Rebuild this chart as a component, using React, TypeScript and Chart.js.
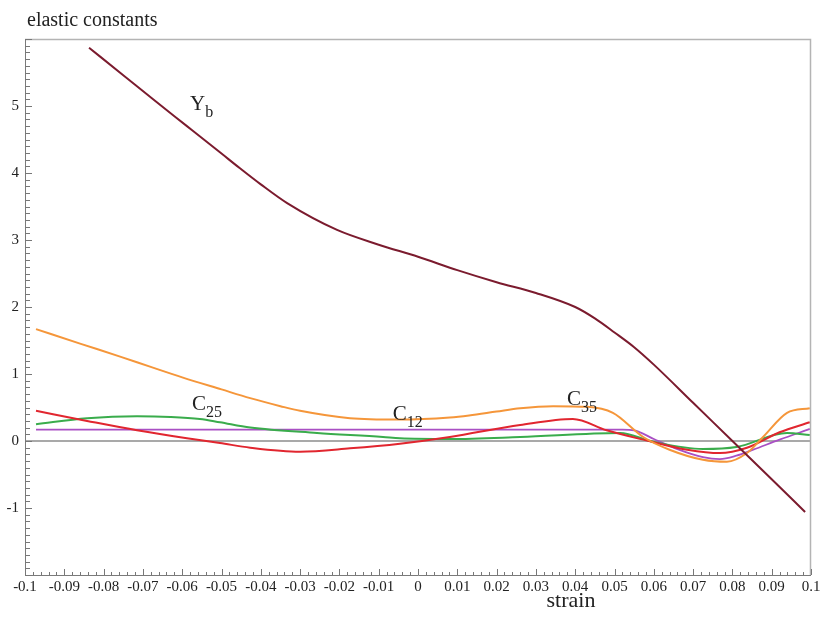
import React, { useEffect, useRef } from "react";
import { Chart, registerables } from "chart.js";
Chart.register(...registerables);

// ---- data (strain, value) ----
const ybX = [-0.0837, -0.075, -0.0674, -0.0588, -0.05, -0.0453, -0.04, -0.0333, -0.0206, -0.01, 0, 0.01, 0.02, 0.03, 0.04, 0.045, 0.05, 0.055, 0.06, 0.07, 0.08, 0.09, 0.0985];
const ybY = [5.87, 5.46, 5.1, 4.7, 4.29, 4.07, 3.83, 3.55, 3.15, 2.93, 2.75, 2.55, 2.37, 2.21, 2.0, 1.83, 1.62, 1.4, 1.14, 0.57, 0.0, -0.57, -1.06];

const orX = [-0.0972, -0.0858, -0.0758, -0.0682, -0.06, -0.05, -0.0427, -0.035, -0.03, -0.0173, -0.005, 0.0081, 0.013, 0.02, 0.026, 0.0344, 0.043, 0.0496, 0.0573, 0.064, 0.0725, 0.0786, 0.0837, 0.0878, 0.0939, 0.0997];
const orY = [1.67, 1.45, 1.26, 1.11, 0.95, 0.77, 0.64, 0.52, 0.45, 0.34, 0.32, 0.35, 0.38, 0.44, 0.49, 0.52, 0.51, 0.42, 0.06, -0.13, -0.28, -0.31, -0.18, 0.06, 0.42, 0.49];

const rdX = [-0.0972, -0.0842, -0.0715, -0.0588, -0.0504, -0.0427, -0.03, -0.0173, -0.0046, 0.0081, 0.026, 0.0394, 0.048, 0.058, 0.0685, 0.0768, 0.0837, 0.092, 0.0997];
const rdY = [0.45, 0.3, 0.16, 0.04, -0.03, -0.1, -0.16, -0.11, -0.04, 0.06, 0.24, 0.33, 0.16, 0.01, -0.13, -0.18, -0.1, 0.13, 0.28];

const gnX = [-0.0972, -0.0842, -0.0715, -0.063, -0.0555, -0.0504, -0.0427, -0.0257, -0.0089, -0.0046, 0.0081, 0.026, 0.0514, 0.0598, 0.0725, 0.081, 0.0939, 0.0997];
const gnY = [0.25, 0.34, 0.37, 0.36, 0.33, 0.28, 0.2, 0.12, 0.06, 0.04, 0.03, 0.06, 0.12, -0.01, -0.12, -0.09, 0.12, 0.09];

const puX = [-0.0972, 0, 0.052, 0.055, 0.06, 0.066, 0.0725, 0.0768, 0.081, 0.0853, 0.092, 0.0997];
const puY = [0.17, 0.17, 0.17, 0.16, 0.03, -0.12, -0.24, -0.27, -0.22, -0.13, 0.02, 0.18];

const zeroX = [-0.1, 0.1];
const zeroY = [0, 0];

// curve labels (main text, subscript, anchor in data coords)
const labelMain = ["Y", "C", "C", "C"];
const labelSub = ["b", "25", "12", "35"];
const labelX = [-0.058, -0.0575, -0.0064, 0.0379];
const labelY = [4.94, 0.46, 0.31, 0.54];

const xTickLabels = ["-0.1", "-0.09", "-0.08", "-0.07", "-0.06", "-0.05", "-0.04", "-0.03", "-0.02", "-0.01", "0", "0.01", "0.02", "0.03", "0.04", "0.05", "0.06", "0.07", "0.08", "0.09", "0.1"];
const yTickLabels = ["", "-1", "0", "1", "2", "3", "4", "5", ""];

const titleText = "elastic constants";
const xTitleText = "strain";

const SERIF = "'Liberation Serif', 'DejaVu Serif', serif";

const pts = (xs: number[], ys: number[]) => xs.map((x, i) => ({ x, y: ys[i] }));

const decoPlugin = {
  id: "deco",
  afterDatasetsDraw(chart: any) {
    const { ctx, chartArea: a, scales } = chart;
    const xs = scales.x;
    const ys = scales.y;
    ctx.save();
    // frame
    ctx.lineWidth = 1.5;
    ctx.strokeStyle = "#b4b4b4";
    ctx.beginPath();
    ctx.moveTo(a.left, a.top + 0.5);
    ctx.lineTo(a.right - 0.5, a.top + 0.5);
    ctx.lineTo(a.right - 0.5, a.bottom);
    ctx.stroke();
    ctx.strokeStyle = "#7a7a7a";
    ctx.lineWidth = 1;
    ctx.beginPath();
    ctx.moveTo(a.left + 0.5, a.top);
    ctx.lineTo(a.left + 0.5, a.bottom + 0.5);
    ctx.lineTo(a.right, a.bottom + 0.5);
    ctx.stroke();
    // y ticks
    ctx.strokeStyle = "#777";
    ctx.beginPath();
    for (let i = -20; i <= 60; i++) {
      const v = i / 10;
      const py = Math.round(ys.getPixelForValue(v)) + 0.5;
      const len = i % 10 === 0 ? 7 : 5;
      ctx.moveTo(a.left, py);
      ctx.lineTo(a.left + len, py);
    }
    // x ticks
    for (let i = -50; i <= 50; i++) {
      const v = i * 0.002;
      const px = Math.round(xs.getPixelForValue(v)) + 0.5;
      const len = i % 5 === 0 ? 6 : 3;
      ctx.moveTo(px, a.bottom);
      ctx.lineTo(px, a.bottom - len);
    }
    ctx.stroke();
    ctx.restore();
  },
  afterDraw(chart: any) {
    const { ctx, scales } = chart;
    const xs = scales.x;
    const ys = scales.y;
    ctx.save();
    ctx.fillStyle = "#222";
    ctx.textBaseline = "alphabetic";
    ctx.textAlign = "left";
    for (let i = 0; i < labelMain.length; i++) {
      const px = xs.getPixelForValue(labelX[i]);
      const py = ys.getPixelForValue(labelY[i]);
      ctx.font = `21px ${SERIF}`;
      ctx.fillText(labelMain[i], px, py);
      const w = ctx.measureText(labelMain[i]).width;
      ctx.font = `16px ${SERIF}`;
      ctx.fillText(labelSub[i], px + w, py + 7);
    }
    ctx.font = `20px ${SERIF}`;
    ctx.fillText(titleText, 27, 26);
    ctx.textAlign = "center";
    ctx.font = `22px ${SERIF}`;
    ctx.fillText(xTitleText, 571, 607);
    ctx.restore();
  },
};

export default function App() {
  const ref = useRef<HTMLCanvasElement>(null);
  useEffect(() => {
    if (!ref.current) return;
    const line = (data: any, color: string, width = 2, order = 0) => ({
      data,
      borderColor: color,
      backgroundColor: color,
      borderWidth: width,
      pointRadius: 0,
      showLine: true,
      fill: false,
      cubicInterpolationMode: "monotone" as const,
      order,
    });
    const chart = new Chart(ref.current, {
      type: "scatter",
      data: {
        datasets: [
          line(pts(zeroX, zeroY), "#a9a9a9", 2.2, 10),
          line(pts(puX, puY), "#a94fc4", 1.8, 5),
          line(pts(gnX, gnY), "#3aac4c", 2, 4),
          line(pts(rdX, rdY), "#e1262f", 2, 3),
          line(pts(orX, orY), "#f5963a", 2, 2),
          line(pts(ybX, ybY), "#7b1b2e", 2, 1),
        ],
      },
      plugins: [decoPlugin],
      options: {
        animation: false,
        responsive: false,
        devicePixelRatio: 1,
        layout: { padding: { left: 0, top: 39, right: 9, bottom: 0 } },
        plugins: { legend: { display: false }, tooltip: { enabled: false } },
        scales: {
          x: {
            type: "linear",
            min: -0.1,
            max: 0.1,
            grid: { display: false, drawTicks: false },
            border: { display: false },
            ticks: {
              stepSize: 0.01,
              autoSkip: false,
              maxRotation: 0,
              padding: 3,
              color: "#222",
              font: { family: SERIF, size: 15 },
              callback: (v: any) => xTickLabels[Math.round((Number(v) + 0.1) * 100)] ?? "",
            },
            afterFit: (s: any) => {
              s.height = 46;
              s.paddingLeft = 0;
              s.paddingRight = 0;
            },
          },
          y: {
            type: "linear",
            min: -2,
            max: 6,
            grid: { display: false, drawTicks: false },
            border: { display: false },
            ticks: {
              stepSize: 1,
              autoSkip: false,
              padding: 6,
              color: "#222",
              font: { family: SERIF, size: 15 },
              callback: (v: any) => yTickLabels[Math.round(Number(v)) + 2] ?? "",
            },
            afterFit: (s: any) => {
              s.width = 25;
              s.paddingTop = 0;
              s.paddingBottom = 0;
            },
          },
        },
      },
    });
    return () => chart.destroy();
  }, []);
  return (
    <div style={{ position: "fixed", left: 0, top: 0, width: 820, height: 621, background: "#fff" }}>
      <canvas ref={ref} width={820} height={621} style={{ display: "block" }} />
    </div>
  );
}
